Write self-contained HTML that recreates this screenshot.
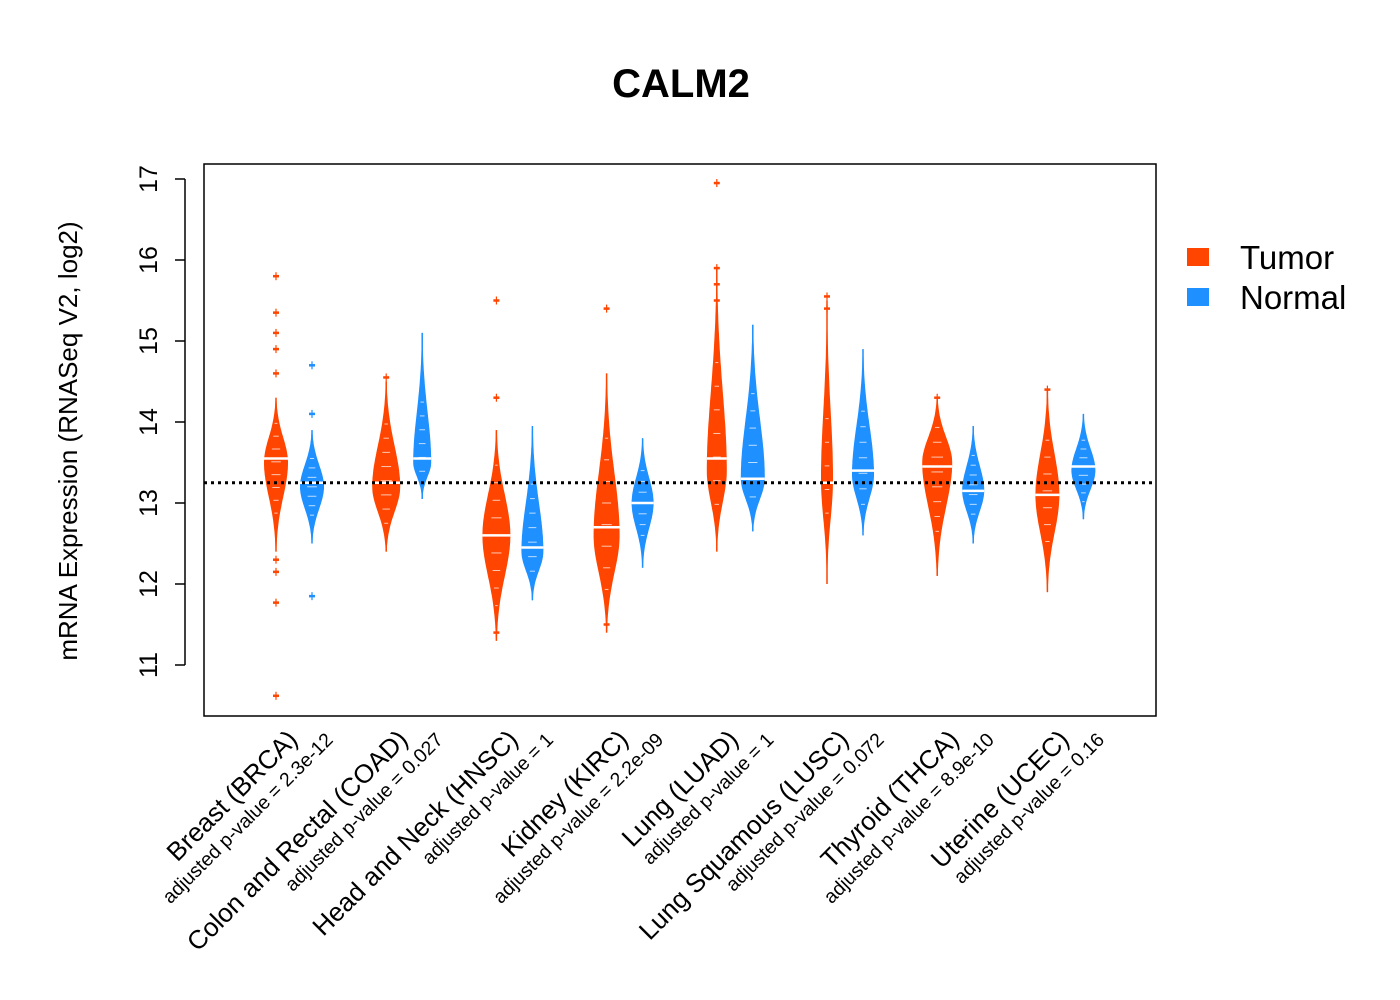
<!DOCTYPE html>
<html><head><meta charset="utf-8"><style>
html,body{margin:0;padding:0;background:#fff;}
svg{display:block;font-family:"Liberation Sans",Arial,sans-serif;}
</style></head><body>
<svg id="chart" width="1400" height="1000" viewBox="0 0 1400 1000" xmlns="http://www.w3.org/2000/svg">
<text x="681" y="97" font-size="40" font-weight="bold" text-anchor="middle">CALM2</text>
<rect x="204" y="164" width="952" height="552" fill="none" stroke="#000" stroke-width="1.5"/>
<text transform="translate(77,441) rotate(-90)" font-size="26" text-anchor="middle">mRNA Expression (RNASeq V2, log2)</text>
<g id="yaxis"></g>
<g id="marks"></g>
<g id="xlabels"></g>
<line id="refline" x1="204" x2="1156" stroke="#000" stroke-width="3" stroke-dasharray="3,4"/>
<g>
<rect x="1187" y="248" width="22" height="18" fill="#FF4500"/>
<text x="1240" y="269" font-size="33">Tumor</text>
<rect x="1187" y="288" width="22" height="18" fill="#1E90FF"/>
<text x="1240" y="309" font-size="33">Normal</text>
</g>
</svg>
<script>
const categories=["Breast (BRCA)","Colon and Rectal (COAD)","Head and Neck (HNSC)","Kidney (KIRC)","Lung (LUAD)","Lung Squamous (LUSC)","Thyroid (THCA)","Uterine (UCEC)"];
const pvalues=["2.3e-12","0.027","1","2.2e-09","1","0.072","8.9e-10","0.16"];
const yTicks=[11,12,13,14,15,16,17];
const refValue=13.25;
const tumorLo=[12.4,12.4,11.3,11.4,12.4,12.0,12.1,11.9];
const tumorHi=[14.3,14.5,13.9,14.6,15.9,15.5,14.3,14.4];
const tumorPeak=[13.5,13.2,12.6,12.6,13.4,13.3,13.5,13.1];
const tumorMedian=[13.55,13.25,12.6,12.7,13.55,13.25,13.45,13.1];
const tumorWidth=[12,14,14,13,10,6,15,12];
const tumorOutliers=[[15.8,15.35,15.1,14.9,14.6,12.3,12.15,11.77,10.62],[14.55],[15.5,14.3,11.4],[15.4,11.5],[16.95,15.9,15.7,15.5],[15.55,15.4],[14.3],[14.4]];
const normalLo=[12.5,13.05,11.8,12.2,12.65,12.6,12.5,12.8];
const normalHi=[13.9,15.1,13.95,13.8,15.2,14.9,13.95,14.1];
const normalPeak=[13.2,13.5,12.4,13.0,13.3,13.35,13.15,13.4];
const normalMedian=[13.25,13.55,12.45,13.0,13.3,13.4,13.15,13.45];
const normalWidth=[12,9,11,11,12,11,11,12];
const normalOutliers=[[14.7,14.1,11.85],[],[],[],[],[],[],[]];

const NS="http://www.w3.org/2000/svg";
const yPx=v=>665-(v-11)*81;
const xTumor=i=>276+i*110.2;
const xNormal=i=>312+i*110.2;
function mk(tag,attrs,parent){const e=document.createElementNS(NS,tag);for(const k in attrs)e.setAttribute(k,attrs[k]);parent.appendChild(e);return e;}

const ya=document.getElementById('yaxis');
mk('line',{x1:185,x2:185,y1:yPx(11),y2:yPx(17),stroke:'#000','stroke-width':1.5},ya);
yTicks.forEach(t=>{
  const l=mk('line',{x1:175,x2:185,y1:yPx(t),y2:yPx(t),stroke:'#000','stroke-width':1.5},ya);
  
  
  const tx=mk('text',{transform:`translate(157,${yPx(t)}) rotate(-90)`,'font-size':25,'text-anchor':'middle'},ya);
  tx.textContent=t;
  
  
});
const rl=document.getElementById('refline');
rl.setAttribute('y1',yPx(refValue));rl.setAttribute('y2',yPx(refValue));

const marks=document.getElementById('marks');
function violin(cx,lo,hi,peak,med,w,outs,color,name){
  const g=mk('g',{},marks);
  
  
  mk('line',{x1:cx,x2:cx,y1:yPx(lo),y2:yPx(hi),stroke:color,'stroke-width':1.5},g);
  const N=60,right=[],left=[];
  for(let k=0;k<=N;k++){
    const v=lo+(hi-lo)*k/N;
    const sd=v<peak?(peak-lo)/2.6:(hi-peak)/2.6;
    const hw=w*Math.exp(-0.5*Math.pow((v-peak)/sd,2));
    right.push([cx+hw,yPx(v)]);left.push([cx-hw,yPx(v)]);
  }
  const pts=right.concat(left.reverse()).map(p=>p[0].toFixed(1)+','+p[1].toFixed(1)).join(' ');
  mk('polygon',{points:pts,fill:color},g);
  for(let k=1;k<12;k++){
    const v=lo+(hi-lo)*k/12;
    const sd=v<peak?(peak-lo)/2.6:(hi-peak)/2.6;
    const hw=w*Math.exp(-0.5*Math.pow((v-peak)/sd,2));
    if(hw>3) mk('line',{x1:cx-hw*0.4,x2:cx+hw*0.4,y1:yPx(v),y2:yPx(v),stroke:'#fff','stroke-width':1,opacity:0.7},g);
  }
  const m=mk('line',{x1:cx-w,x2:cx+w,y1:yPx(med),y2:yPx(med),stroke:'#fff','stroke-width':2.5},g);
  
  
  outs.forEach(o=>{
    mk('line',{x1:cx,x2:cx,y1:yPx(o)-4,y2:yPx(o)+4,stroke:color,'stroke-width':1.2},g);
    const d=mk('line',{x1:cx-3,x2:cx+3,y1:yPx(o),y2:yPx(o),stroke:color,'stroke-width':2.5},g);
    
    
  });
}
const xl=document.getElementById('xlabels');
categories.forEach((c,i)=>{
  violin(xTumor(i),tumorLo[i],tumorHi[i],tumorPeak[i],tumorMedian[i],tumorWidth[i],tumorOutliers[i],'#FF4500','violin-tumor-'+i);
  violin(xNormal(i),normalLo[i],normalHi[i],normalPeak[i],normalMedian[i],normalWidth[i],normalOutliers[i],'#1E90FF','violin-normal-'+i);
  const cx=(xTumor(i)+xNormal(i))/2;
  const t=mk('text',{transform:`translate(${cx+5},${741}) rotate(-45)`,'font-size':26,'text-anchor':'end'},xl);
  t.textContent=c;
  
  
  const p=mk('text',{transform:`translate(${cx+40},${741}) rotate(-45)`,'font-size':19.5,'text-anchor':'end'},xl);
  p.textContent='adjusted p-value = '+pvalues[i];
  
  
});
</script>
</body></html>
